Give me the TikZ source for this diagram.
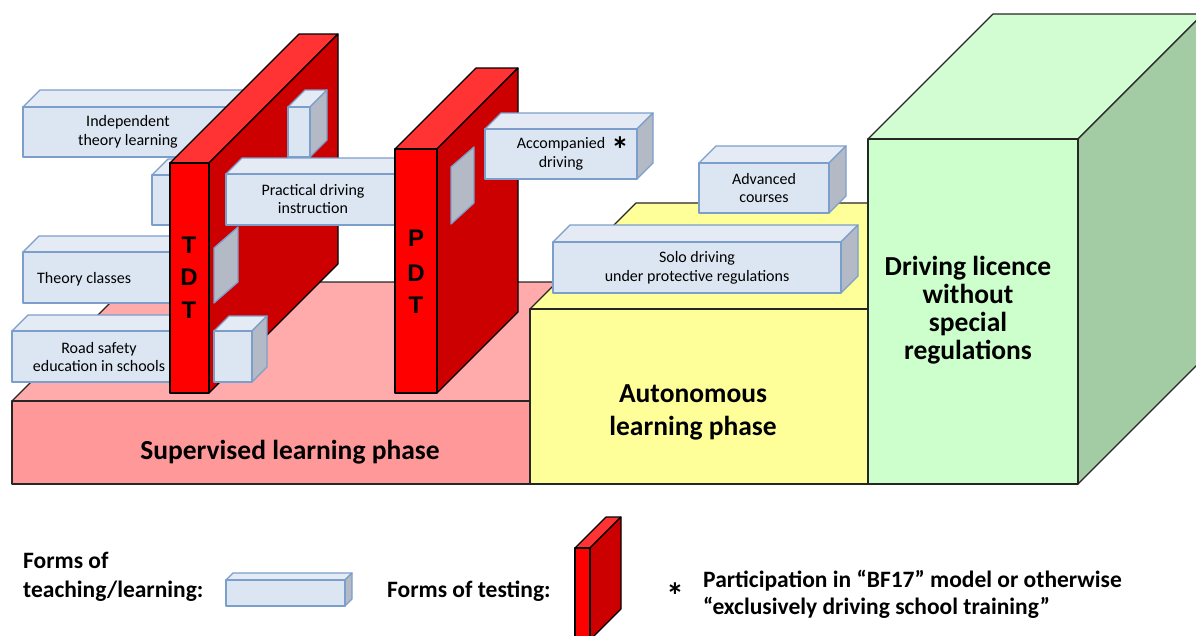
\documentclass[tikz,border=0pt]{standalone}
\usepackage{fontspec}
\setmainfont{Carlito}
\newfontfamily\wallfont{Liberation Sans}
\definecolor{boxfront}{HTML}{DCE6F2}
\definecolor{boxtop}{HTML}{E4EBF5}
\definecolor{boxside}{HTML}{B3BAC5}
\definecolor{boxline}{HTML}{7C9ECB}
\definecolor{pinkfront}{HTML}{FF9999}
\definecolor{pinktop}{HTML}{FFABAB}
\definecolor{yel}{HTML}{FFFF99}
\definecolor{greenfront}{HTML}{CCFFCC}
\definecolor{greentop}{HTML}{D2FCD2}
\definecolor{greenside}{HTML}{A4CCA4}
\definecolor{redfront}{HTML}{FF0000}
\definecolor{redtop}{HTML}{FF3333}
\definecolor{redside}{HTML}{CC0000}
% #1 line style, #2 front, #3 top, #4 side, #5 x1, #6 x2, #7 ytop, #8 ybot, #9 depth
\newcommand\cuboid[9]{%
  \filldraw[#1,fill=#3] (#5,#7) -- ({#5+#9},{#7-#9}) -- ({#6+#9},{#7-#9}) -- (#6,#7) -- cycle;
  \filldraw[#1,fill=#4] (#6,#7) -- ({#6+#9},{#7-#9}) -- ({#6+#9},{#8-#9}) -- (#6,#8) -- cycle;
  \filldraw[#1,fill=#2] (#5,#7) rectangle (#6,#8);
}
\newcommand\learnbox[5]{\cuboid{boxedge}{boxfront}{boxtop}{boxside}{#1}{#2}{#3}{#4}{#5}}
\newcommand\testwall[5]{\cuboid{walledge}{redfront}{redtop}{redside}{#1}{#2}{#3}{#4}{#5}}
\begin{document}
\begin{tikzpicture}[x=1pt,y=-1pt,
  boxedge/.style={draw=boxline,line width=1.3pt,line join=round},
  walledge/.style={draw=black,line width=1.1pt,line join=round},
  slabedge/.style={draw=black!85,line width=1.1pt,line join=round},
  lab/.style={font=\fontsize{16}{18.5}\selectfont,align=center,inner sep=0pt},
  big/.style={font=\bfseries\fontsize{27.5}{28}\selectfont,align=center,inner sep=0pt},
  leg/.style={font=\bfseries\fontsize{23.5}{27}\selectfont,align=left,inner sep=0pt,anchor=west},
  star/.style={font=\bfseries\fontsize{36}{36}\selectfont,inner sep=0pt},
  wl/.style={font=\wallfont\bfseries\fontsize{24}{24}\selectfont,inner sep=0pt}]
\useasboundingbox (0,0) rectangle (1196,635);
\clip (0,0) rectangle (1196,635);
% phases
\cuboid{slabedge}{pinkfront}{pinktop}{pinktop}{12}{530}{401}{484}{119}
\cuboid{slabedge}{yel}{yel}{yel}{530}{868}{309}{484}{106}
\cuboid{slabedge}{greenfront}{greentop}{greenside}{868}{1078}{139}{484}{125}
% boxes behind TDT
\learnbox{23}{310}{107}{157}{17}
\learnbox{152}{200}{175}{225}{16}
\learnbox{23}{200}{252}{303}{16}
\learnbox{12}{200}{331}{382}{16}
% TDT wall
\testwall{170}{209}{163}{393}{129}
\learnbox{288}{310}{107}{157}{17}
\filldraw[boxedge,fill=boxside] (214,248) -- (238,227) -- (238,282) -- (214,303) -- cycle;
\learnbox{214}{252}{331}{382}{15}
\learnbox{226}{420}{174}{225}{16}
% PDT wall
\testwall{395}{437}{149}{393}{81}
\filldraw[boxedge,fill=boxside] (451,167) -- (474,147) -- (474,203) -- (451,224) -- cycle;
\learnbox{485}{637}{129}{179}{16}
\learnbox{699}{829}{163}{213}{17}
\learnbox{553}{841}{242}{293}{17}
% labels
\node[lab] (indep) at (128,132) {Independent\\theory learning};
\node[lab] (pract) at (313,199) {Practical driving\\instruction};
\node[lab,anchor=west] (theory) at (37,279) {Theory classes};
\node[lab] (road) at (99,357) {Road safety\\education in schools};
\node[lab] (acc) at (561,154) {Accompanied\\driving};
\node[star] (accstar) at (620,150) {*};
\node[lab] (adv) at (764,188) {Advanced\\courses};
\node[lab] (solo) at (697,268) {Solo driving\\under protective regulations};
\node[wl] (t1) at (189,245) {T};
\node[wl] (t2) at (189,277) {D};
\node[wl] (t3) at (189,310) {T};
\node[wl] (p1) at (416,238) {P};
\node[wl] (p2) at (416,273) {D};
\node[wl] (p3) at (416,305) {T};
\node[big] (sup) at (290,452) {Supervised learning phase};
\node[big,font=\bfseries\fontsize{27.5}{33}\selectfont] (auto) at (693,412) {Autonomous\\learning phase};
\node[big] (lic) at (968,310) {Driving licence\\without\\special\\regulations};
% legend
\node[leg,font=\bfseries\fontsize{23.5}{29}\selectfont] (leg1) at (23,577) {Forms of\\teaching/learning:};
\cuboid{boxedge}{boxfront}{boxtop}{boxside}{226}{345}{580}{606}{7}
\node[leg] (leg2) at (387,591) {Forms of testing:};
\testwall{575}{590}{548}{640}{31}
\node[star] (legstar) at (675,596) {*};
\node[leg] (leg3) at (703,594) {Participation in “BF17” model or otherwise\\“exclusively driving school training”};
\end{tikzpicture}
\end{document}
